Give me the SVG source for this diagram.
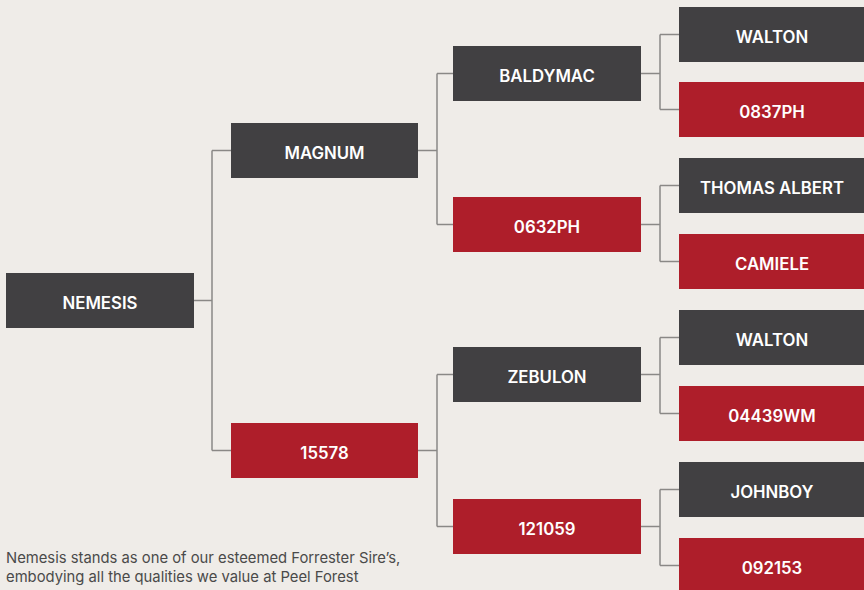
<svg xmlns="http://www.w3.org/2000/svg" width="864" height="590" viewBox="0 0 864 590">
<style>
.d{fill:#414042}
.r{fill:#AE1E2A}
.t{font-family:Inter,"Open Sans",sans-serif;font-weight:600;font-size:16.8px;fill:#ffffff;text-anchor:middle;dominant-baseline:central}
.c{fill:none;stroke:#8a8886;stroke-width:1.5}
.cap{font-family:Inter,"Open Sans",sans-serif;font-size:14.8px;fill:#4a4a4a}
</style>
<rect width="864" height="590" fill="#EFECE8"/>
<g id="connectors">
<path class="c" d="M194 300.5H212M212 150.5V450.5M212 150.5H231M212 450.5H231"/>
<path class="c" d="M418 150.5H437M437 73.5V224.5M437 73.5H453M437 224.5H453"/>
<path class="c" d="M418 450.5H437M437 374.5V526.5M437 374.5H453M437 526.5H453"/>
<path class="c" d="M641 73.5H660M660 34.5V109.5M660 34.5H679M660 109.5H679"/>
<path class="c" d="M641 224.5H660M660 185.5V261.5M660 185.5H679M660 261.5H679"/>
<path class="c" d="M641 374.5H660M660 337.5V413.5M660 337.5H679M660 413.5H679"/>
<path class="c" d="M641 526.5H660M660 489.5V565.5M660 489.5H679M660 565.5H679"/>
</g>
<g id="nemesis"><rect class="d" x="6" y="273" width="188" height="55"/><text class="t" x="100" y="303">NEMESIS</text></g>
<g id="magnum"><rect class="d" x="231" y="123" width="187" height="55"/><text class="t" x="324.5" y="153">MAGNUM</text></g>
<g id="n15578"><rect class="r" x="231" y="423" width="187" height="55"/><text class="t" x="324.5" y="453">15578</text></g>
<g id="baldymac"><rect class="d" x="453" y="46" width="188" height="55"/><text class="t" x="547" y="76">BALDYMAC</text></g>
<g id="n0632ph"><rect class="r" x="453" y="197" width="188" height="55"/><text class="t" x="547" y="227">0632PH</text></g>
<g id="zebulon"><rect class="d" x="453" y="347" width="188" height="55"/><text class="t" x="547" y="377">ZEBULON</text></g>
<g id="n121059"><rect class="r" x="453" y="499" width="188" height="55"/><text class="t" x="547" y="529">121059</text></g>
<g id="walton1"><rect class="d" x="679" y="7" width="185" height="55"/><text class="t" x="772" y="37">WALTON</text></g>
<g id="n0837ph"><rect class="r" x="679" y="82" width="185" height="55"/><text class="t" x="772" y="112">0837PH</text></g>
<g id="thomasalbert"><rect class="d" x="679" y="158" width="185" height="55"/><text class="t" x="772" y="188">THOMAS ALBERT</text></g>
<g id="camiele"><rect class="r" x="679" y="234" width="185" height="55"/><text class="t" x="772" y="264">CAMIELE</text></g>
<g id="walton2"><rect class="d" x="679" y="310" width="185" height="55"/><text class="t" x="772" y="340">WALTON</text></g>
<g id="n04439wm"><rect class="r" x="679" y="386" width="185" height="55"/><text class="t" x="772" y="416">04439WM</text></g>
<g id="johnboy"><rect class="d" x="679" y="462" width="185" height="55"/><text class="t" x="772" y="492">JOHNBOY</text></g>
<g id="n092153"><rect class="r" x="679" y="538" width="185" height="55"/><text class="t" x="772" y="568">092153</text></g>
<g id="caption">
<text class="cap" x="6" y="563">Nemesis stands as one of our esteemed Forrester Sire’s,</text>
<text class="cap" x="6" y="582">embodying all the qualities we value at Peel Forest</text>
</g>
</svg>
